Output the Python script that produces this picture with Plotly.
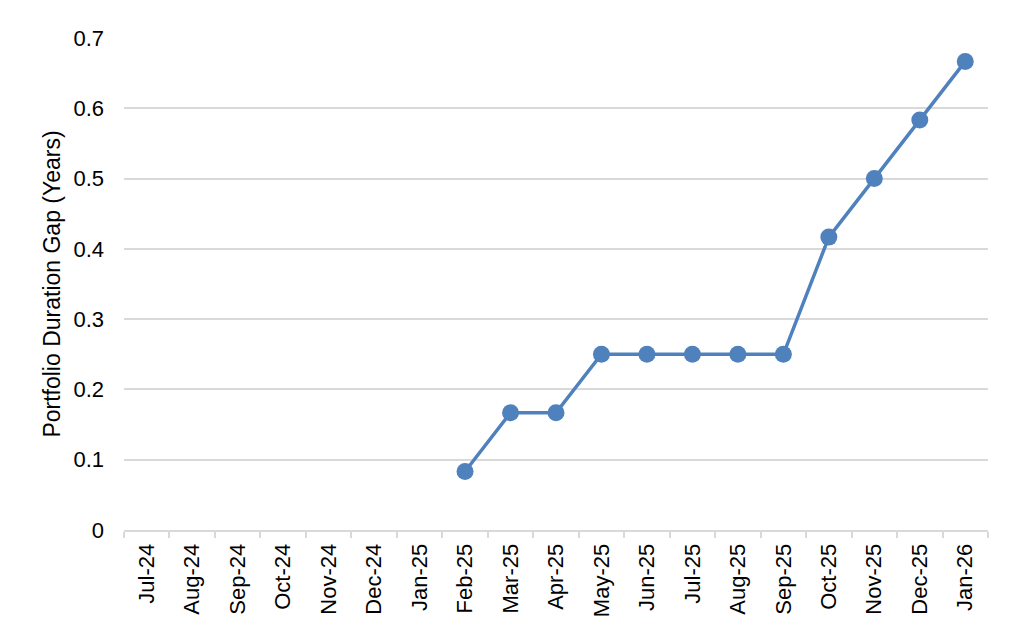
import plotly.graph_objects as go

months = ["Jul-24", "Aug-24", "Sep-24", "Oct-24", "Nov-24", "Dec-24", "Jan-25",
          "Feb-25", "Mar-25", "Apr-25", "May-25", "Jun-25", "Jul-25", "Aug-25",
          "Sep-25", "Oct-25", "Nov-25", "Dec-25", "Jan-26"]
gap = [None, None, None, None, None, None, None,
       0.0833, 0.1667, 0.1667, 0.25, 0.25, 0.25, 0.25,
       0.25, 0.4167, 0.5, 0.5833, 0.6667]
y_ticks = [0, 0.1, 0.2, 0.3, 0.4, 0.5, 0.6, 0.7]
y_labels = ["0", "0.1", "0.2", "0.3", "0.4", "0.5", "0.6", "0.7"]

fig = go.Figure()
fig.add_trace(go.Scatter(
    x=months, y=gap, mode="lines+markers",
    line=dict(color="#4f81bd", width=3.5),
    marker=dict(color="#4f81bd", size=17),
    connectgaps=False, showlegend=False, cliponaxis=False,
))

fig.update_layout(
    width=1024, height=640,
    margin=dict(l=124, r=36, t=38, b=110),
    paper_bgcolor="white", plot_bgcolor="white",
    font=dict(family="Liberation Sans, Arial, sans-serif", size=22, color="#000000"),
    xaxis=dict(
        type="category", categoryorder="array", categoryarray=months,
        tickangle=-90, tickson="boundaries", ticks="outside", ticklen=6,
        tickcolor="#d9d9d9", tickwidth=2,
        showline=True, linecolor="#d9d9d9", linewidth=2,
        showgrid=False, tickfont=dict(size=22),
        ticklabelstandoff=3,
        range=[-0.5, 18.5],
    ),
    yaxis=dict(
        range=[0, 0.7], tickvals=y_ticks, ticktext=y_labels,
        showgrid=True, gridcolor="#d9d9d9", gridwidth=2,
        zeroline=False, showline=False, ticks="", ticklabelstandoff=19,
        title=dict(text="Portfolio Duration Gap (Years)", font=dict(size=23), standoff=6),
        tickfont=dict(size=22),
    ),
)

fig.write_html("out.html", config={"displayModeBar": False},
               post_script="document.body.style.margin='0';document.body.style.overflow='hidden';")
